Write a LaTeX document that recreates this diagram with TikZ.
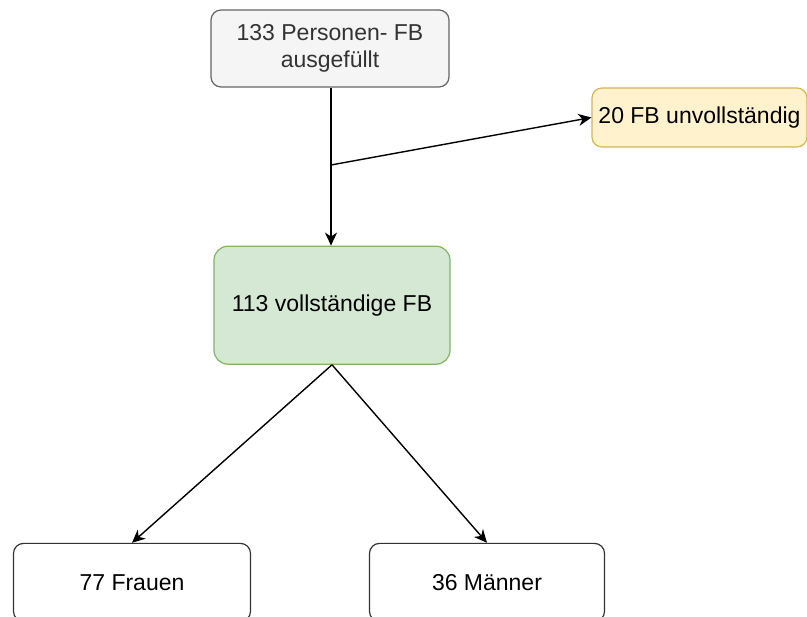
\documentclass[tikz,border=0pt]{standalone}
\usepackage{fontspec}
\setmainfont{Liberation Sans}
\usepackage{xcolor}
\usepackage{tikz}
\usetikzlibrary{arrows.meta,positioning}
\definecolor{grayfill}{HTML}{F5F5F5}
\definecolor{graydraw}{HTML}{666666}
\definecolor{graytext}{HTML}{333333}
\definecolor{yellowfill}{HTML}{FFF2CC}
\definecolor{yellowdraw}{HTML}{D6B656}
\definecolor{greenfill}{HTML}{D5E8D4}
\definecolor{greendraw}{HTML}{82B366}
\tikzset{
  box/.style={draw, rounded corners=10pt, align=center, line width=1.2pt,
    font=\fontsize{23}{27}\selectfont, inner sep=0pt},
  start/.style={box, fill=grayfill, draw=graydraw, text=graytext},
  drop/.style={box, fill=yellowfill, draw=yellowdraw},
  kept/.style={box, fill=greenfill, draw=greendraw, rounded corners=14pt},
  group/.style={box, draw=black!80, fill=white},
  arrow/.style={-{Stealth[length=13pt,width=12pt,inset=4pt]}, line width=1.4pt}
}

\begin{document}
\begin{tikzpicture}[x=1pt, y=-1pt]
    \useasboundingbox (0,0) rectangle (807,617);

    \node[start, minimum width=238pt, minimum height=77pt] (fb) at (330,48.5) {133 Personen- FB\\ausgefüllt};
    \node[kept, minimum width=236pt, minimum height=118pt, below=158pt of fb, xshift=2pt] (full) {113 vollständige FB};
    \node[drop, minimum width=215pt, minimum height=59pt] (part) at (699.5,117.5) {20 FB unvollständig};

    \node[group, minimum width=237pt, minimum height=78pt, below=178pt of full, xshift=-200pt] (women) {77 Frauen};
    \node[group, minimum width=235pt, minimum height=78pt, below=178pt of full, xshift=155pt] (men) {36 Männer};

    \coordinate (split) at (331,165);

    \draw[arrow] (fb.south -| split) -- (full.north -| split);
    \draw[arrow] (split) -- (part.west);

    \draw[arrow] (full.south) -- (women.north);
    \draw[arrow] (full.south) -- (men.north);
  \end{tikzpicture}
\end{document}
